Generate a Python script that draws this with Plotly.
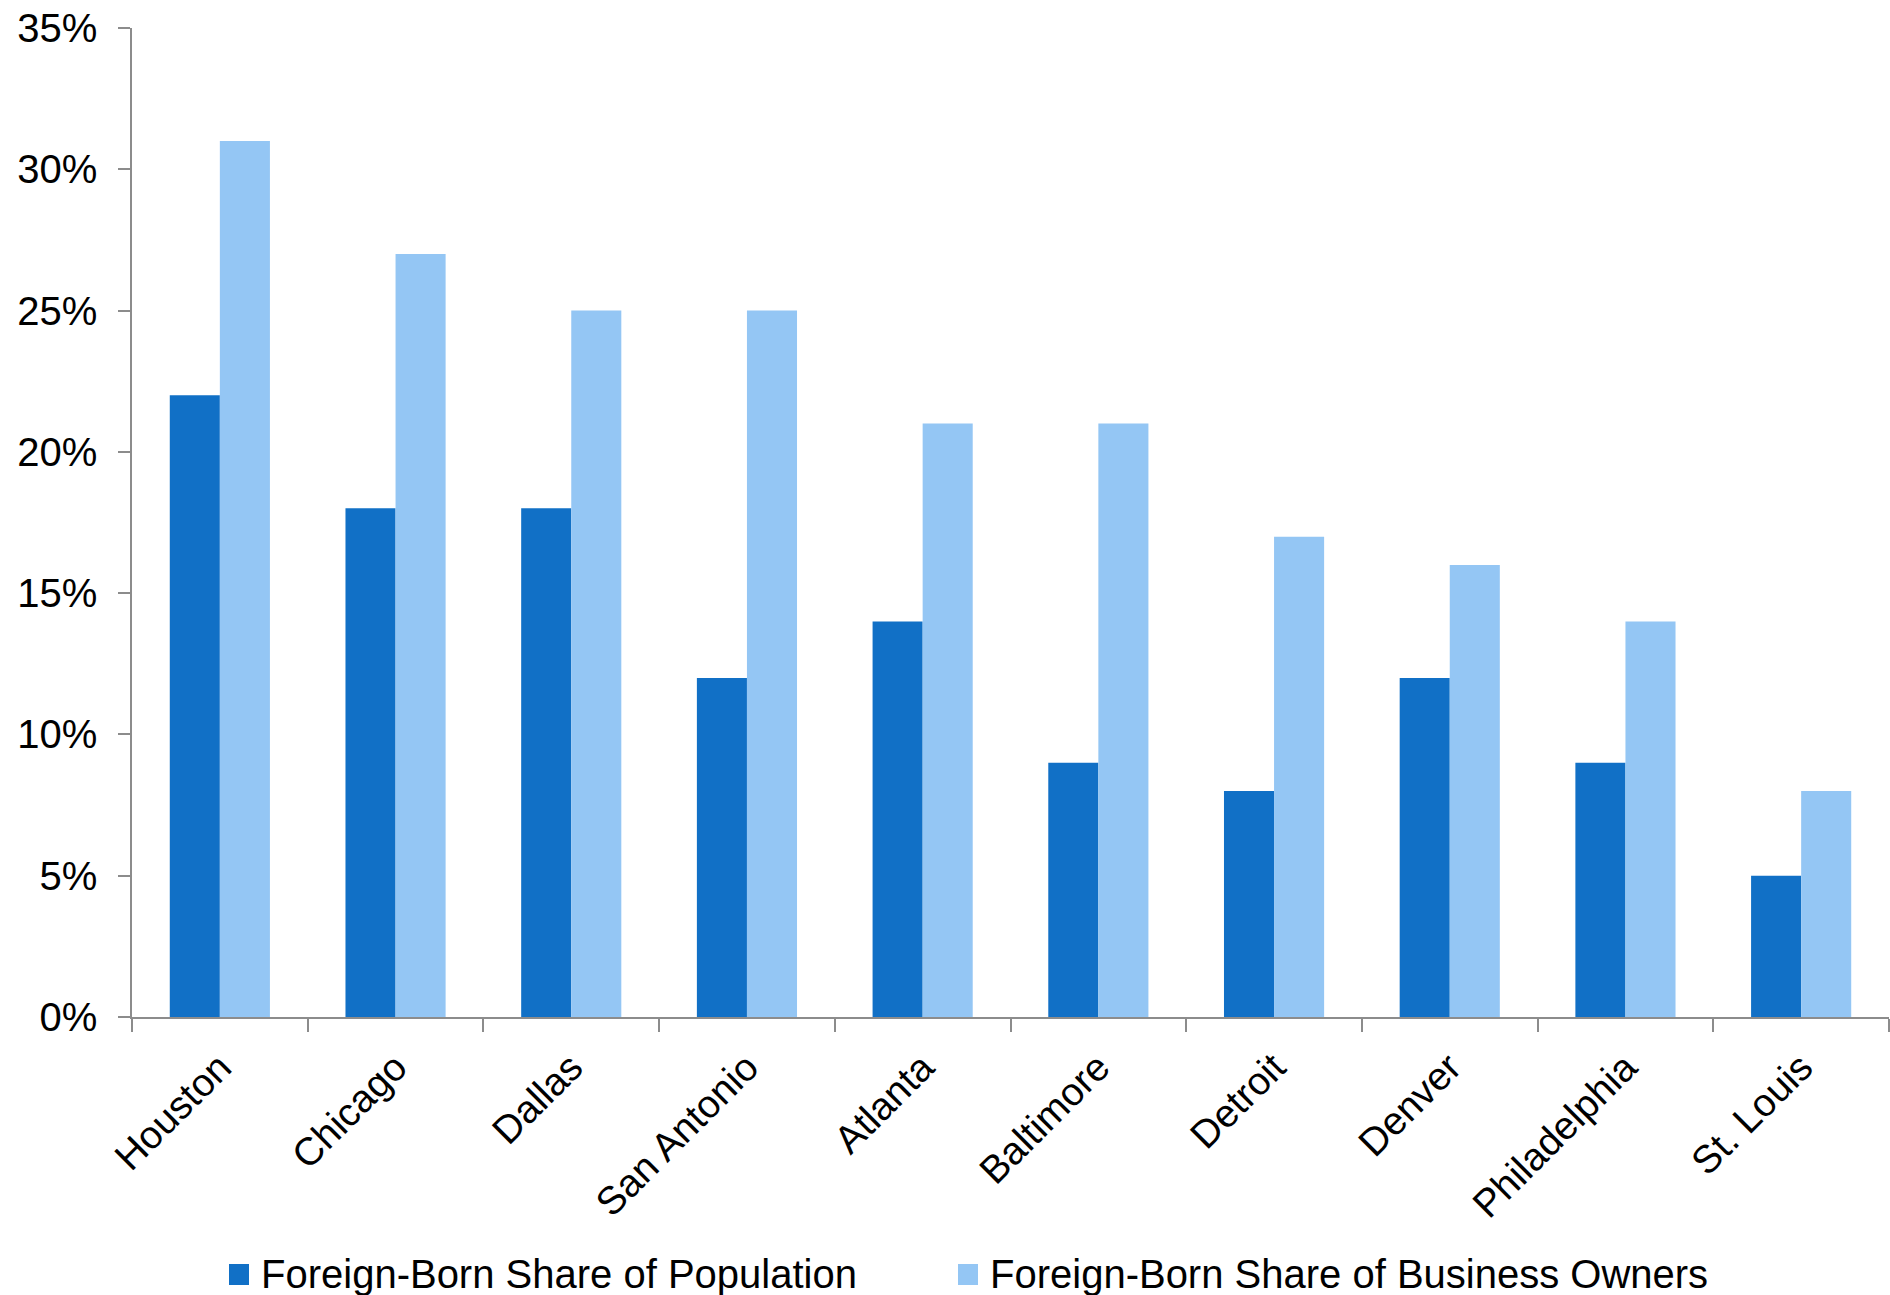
import plotly.graph_objects as go

cities = ["Houston", "Chicago", "Dallas", "San Antonio", "Atlanta", "Baltimore",
          "Detroit", "Denver", "Philadelphia", "St. Louis"]
population_share = [22, 18, 18, 12, 14, 9, 8, 12, 9, 5]
owner_share = [31, 27, 25, 25, 21, 21, 17, 16, 14, 8]
series_names = ["Foreign-Born Share of Population", "Foreign-Born Share of Business Owners"]
y_ticks = [0, 5, 10, 15, 20, 25, 30, 35]
y_tick_labels = [f"{v}%" for v in y_ticks]

DARK = "#1170C6"
LIGHT = "#94C6F4"
AXIS = "#8C8C8C"
FONT = "Liberation Sans, Arial, sans-serif"

fig = go.Figure()
fig.add_trace(go.Bar(x=cities, y=population_share, name=series_names[0],
                     marker=dict(color=DARK, line=dict(width=0)), showlegend=False))
fig.add_trace(go.Bar(x=cities, y=owner_share, name=series_names[1],
                     marker=dict(color=LIGHT, line=dict(width=0)), showlegend=False))

W, H = 1890, 1295
L, R, T, B = 132, 1, 28, 278
pw = W - L - R
ph = H - T - B

def px_x(x):
    return (x - L) / pw

def px_y(y):
    return (H - B - y) / ph

# custom legend (swatches + labels)
legend_items = [(229, 259, DARK, series_names[0]), (958, 988, LIGHT, series_names[1])]
for sx, tx, col, name in legend_items:
    fig.add_shape(type="rect", xref="paper", yref="paper",
                  x0=px_x(sx), x1=px_x(sx + 20), y0=px_y(1264), y1=px_y(1285),
                  fillcolor=col, line=dict(width=0))
    fig.add_annotation(xref="paper", yref="paper", x=px_x(tx), y=px_y(1274),
                       xanchor="left", yanchor="middle", text=name, showarrow=False,
                       font=dict(family=FONT, size=40, color="black"))

fig.update_layout(
    width=W, height=H,
    margin=dict(l=L, r=R, t=T, b=B, pad=0),
    barmode="group", bargap=0.43, bargroupgap=0,
    plot_bgcolor="white", paper_bgcolor="white",
    font=dict(family=FONT, size=40, color="black"),
)
fig.update_xaxes(
    showline=True, linecolor=AXIS, linewidth=1.5,
    ticks="outside", tickson="boundaries", ticklen=13, tickcolor=AXIS, tickwidth=1.5,
    tickangle=-45, tickfont=dict(family=FONT, size=39, color="black"),
    showgrid=False, zeroline=False, ticklabelstandoff=10,
)
fig.update_yaxes(
    range=[0, 35], tickmode="array", tickvals=y_ticks, ticktext=y_tick_labels,
    showline=True, linecolor=AXIS, linewidth=1.5,
    ticks="outside", ticklen=12, tickcolor=AXIS, tickwidth=1.5,
    tickfont=dict(family=FONT, size=40, color="black"),
    showgrid=False, zeroline=False, ticklabelstandoff=13,
)

fig.write_html("out.html")
